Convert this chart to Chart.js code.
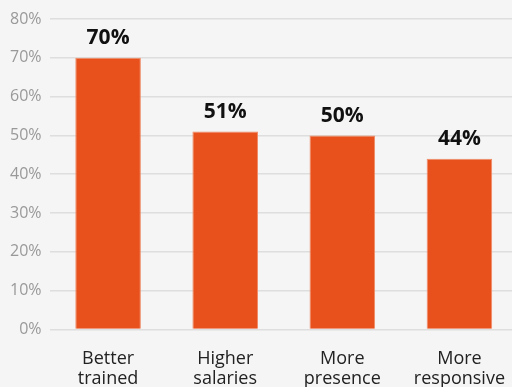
<!DOCTYPE html>
<html>
<head>
<meta charset="utf-8">
<script src="https://cdn.jsdelivr.net/npm/chart.js@4"></script>
<style>
  html, body { margin: 0; padding: 0; background: #f5f5f5; overflow: hidden; }
  #wrap { width: 518px; height: 401px; }
</style>
</head>
<body>
<div id="wrap"><canvas id="chart"></canvas></div>
<script>
let categories = [["Better", "trained"], ["Higher", "salaries"], ["More", "presence"], ["More", "responsive"]];
let values = [70, 51, 50, 44];
let tickValues = [0, 10, 20, 30, 40, 50, 60, 70, 80];

// labels above each bar
let barLabels = {
  id: "barLabels",
  afterDatasetsDraw(chart) {
    let ctx = chart.ctx;
    let meta = chart.getDatasetMeta(0);
    ctx.save();
    ctx.font = "bold 21px 'Open Sans', sans-serif";
    ctx.fillStyle = "#111";
    ctx.textAlign = "center";
    ctx.textBaseline = "bottom";
    meta.data.forEach((bar, i) => {
      ctx.fillText(values[i] + "%", bar.x, bar.y - 9);
    });
    ctx.restore();
  }
};

let ctx = document.getElementById("chart");

new Chart(ctx, {
  type: "bar",
  data: {
    labels: categories,
    datasets: [
      {
        data: values,
        backgroundColor: "#e8511c",
        borderColor: "#f08a66",
        borderWidth: 1,
        barPercentage: 0.56,
        categoryPercentage: 1
      }
    ]
  },
  options: {
    responsive: true,
    maintainAspectRatio: false,
    animation: false,
    layout: { padding: { top: 19, right: 0, left: 2, bottom: 0 } },
    plugins: { legend: { display: false }, tooltip: { enabled: false } },
    scales: {
      x: {
        grid: { display: false },
        border: { display: false },
        ticks: {
          color: "#222",
          font: { family: "'Open Sans', sans-serif", size: 18, lineHeight: 1.1 },
          padding: 12,
          maxRotation: 0
        }
      },
      y: {
        min: 0,
        max: 80,
        afterBuildTicks(axis) {
          axis.ticks = tickValues.map(v => ({ value: v }));
        },
        grid: { color: "#dedede", lineWidth: 1.5, drawTicks: false },
        border: { display: false },
        ticks: {
          color: "#999",
          font: { family: "'Open Sans', sans-serif", size: 16 },
          padding: 8,
          callback: v => v + "%"
        }
      }
    }
  },
  plugins: [barLabels]
});
</script>
</body>
</html>
